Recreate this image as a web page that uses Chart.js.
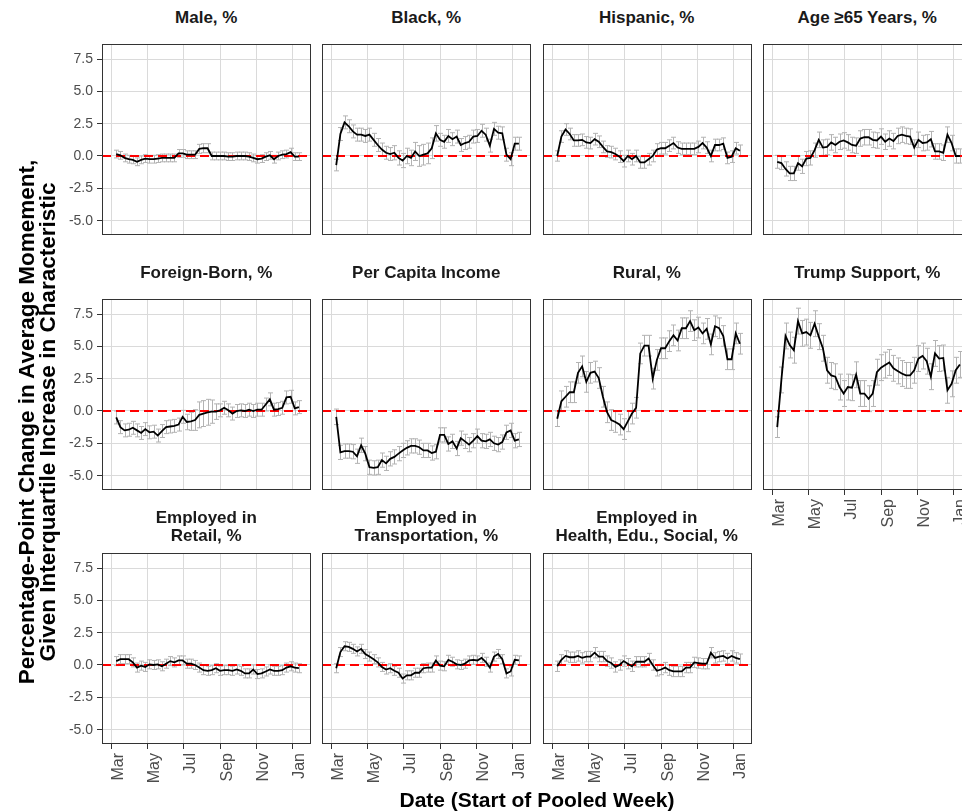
<!DOCTYPE html>
<html>
<head>
<meta charset="utf-8">
<script src="https://cdn.jsdelivr.net/npm/chart.js@4.4.0/dist/chart.umd.min.js"></script>
<style>
  html, body { margin: 0; padding: 0; background: #fff; overflow: hidden; }
  #wrap { position: relative; width: 962px; height: 812px; overflow: hidden;
          font-family: "Liberation Sans", Arial, Helvetica, sans-serif; }
  .ptitle { position: absolute; text-align: center; font-weight: bold; font-size: 17px;
            line-height: 18px; color: #1a1a1a; white-space: nowrap; }
  .axtitle { position: absolute; text-align: center; font-weight: bold; font-size: 21px;
             line-height: 20px; color: #000; white-space: nowrap; }
  canvas { position: absolute; }
</style>
</head>
<body>
<div id="wrap"></div>
<script>
// week start dates (pooled weeks)
const weeks = ['2020-03-09','2020-03-16','2020-03-23','2020-03-30','2020-04-06','2020-04-13','2020-04-20','2020-04-27',
  '2020-05-04','2020-05-11','2020-05-18','2020-05-25','2020-06-01','2020-06-08','2020-06-15','2020-06-22','2020-06-29',
  '2020-07-06','2020-07-13','2020-07-20','2020-07-27','2020-08-03','2020-08-10','2020-08-17','2020-08-24','2020-08-31',
  '2020-09-07','2020-09-14','2020-09-21','2020-09-28','2020-10-05','2020-10-12','2020-10-19','2020-10-26',
  '2020-11-02','2020-11-09','2020-11-16','2020-11-23','2020-11-30','2020-12-07','2020-12-14','2020-12-21','2020-12-28',
  '2021-01-04','2021-01-11'];
const monthTicks = ['2020-03-01','2020-05-01','2020-07-01','2020-09-01','2020-11-01','2021-01-01'];
const monthNames = ['Mar','May','Jul','Sep','Nov','Jan'];
const yTicks = [-5, -2.5, 0, 2.5, 5, 7.5];

// estimates (percentage points) and half-width of error bars
const male = [0.15,0.05,-0.15,-0.25,-0.3,-0.45,-0.3,-0.2,-0.25,-0.25,-0.2,-0.15,-0.15,-0.15,-0.15,0.2,0.2,0.1,0.1,0.1,
  0.55,0.6,0.6,0,0,0,0,-0.05,-0.05,0,0,0,-0.05,-0.15,-0.25,-0.2,-0.05,0.05,-0.25,0,0.1,0.15,0.3,-0.05,-0.05];
const maleErr = [0.3,0.3,0.3,0.3,0.3,0.3,0.3,0.3,0.3,0.3,0.3,0.3,0.3,0.3,0.3,0.3,0.3,0.3,0.3,0.3,
  0.35,0.35,0.35,0.3,0.3,0.3,0.3,0.3,0.3,0.3,0.3,0.3,0.3,0.3,0.3,0.3,0.3,0.3,0.3,0.3,0.3,0.3,0.3,0.3,0.3];

const black = [-0.7,1.7,2.6,2.3,1.9,1.65,1.65,1.55,1.65,1.25,0.85,0.5,0.25,0.15,0.25,-0.15,-0.35,0,-0.15,0.35,
  0,0.1,0.2,0.6,1.75,1.25,1.1,1.55,1.3,1.5,0.85,1.0,1.1,1.5,1.55,1.95,1.65,0.8,2.1,1.8,1.75,0.1,-0.25,0.95,0.95];
const blackErr = [0.45,0.5,0.5,0.5,0.5,0.5,0.5,0.5,0.5,0.5,0.5,0.5,0.5,0.5,0.55,0.55,0.55,0.6,0.6,0.7,
  0.8,0.8,0.8,0.8,0.6,0.5,0.5,0.5,0.5,0.5,0.5,0.5,0.5,0.5,0.5,0.5,0.5,0.5,0.5,0.5,0.5,0.5,0.5,0.5,0.5];

const hispanic = [0,1.5,2.05,1.7,1.2,1.2,1.25,1.05,1.0,1.3,1.1,0.7,0.35,0.3,0.15,-0.05,-0.4,0,-0.25,0,
  -0.5,-0.5,-0.25,0,0.5,0.6,0.6,0.8,1.0,0.65,0.55,0.55,0.55,0.55,0.7,1.0,0.65,0,0.85,0.85,0.95,-0.15,-0.05,0.6,0.4];
const hispanicErr = [0.4,0.45,0.45,0.45,0.45,0.45,0.45,0.45,0.45,0.45,0.45,0.45,0.45,0.45,0.45,0.45,0.45,0.45,0.45,0.45,
  0.45,0.45,0.45,0.45,0.45,0.45,0.45,0.45,0.45,0.45,0.45,0.45,0.45,0.45,0.45,0.45,0.45,0.45,0.45,0.45,0.45,0.45,0.45,0.45,0.45];

const age65 = [-0.45,-0.55,-1.0,-1.35,-1.35,-0.55,-0.8,-0.2,-0.15,0.45,1.25,0.65,0.7,1.05,0.85,1.1,1.2,1.05,0.85,0.8,
  1.35,1.45,1.45,1.25,1.2,1.5,1.1,1.35,1.15,1.55,1.65,1.55,1.5,0.65,1.25,1.0,1.05,1.3,0.35,0.35,0.25,1.65,1.0,0,0];
const age65Err = [0.5,0.5,0.55,0.55,0.55,0.55,0.55,0.55,0.55,0.55,0.6,0.6,0.6,0.6,0.6,0.6,0.6,0.6,0.6,0.6,
  0.6,0.6,0.6,0.6,0.6,0.6,0.6,0.6,0.6,0.6,0.6,0.6,0.6,0.6,0.6,0.6,0.6,0.6,0.6,0.6,0.6,0.6,0.6,0.55,0.55];

const foreignBorn = [-0.5,-1.25,-1.5,-1.45,-1.3,-1.5,-1.7,-1.4,-1.65,-1.6,-1.9,-1.55,-1.25,-1.2,-1.15,-1.05,-0.45,-0.85,-0.8,-0.7,
  -0.3,-0.2,-0.1,-0.05,-0.05,0.05,0.25,0.05,-0.2,0,0.05,0,0.1,0,0.1,0.1,0.5,0.9,0.1,0.15,0.25,1.05,1.1,0.2,0.3];
const foreignBornErr = [0.5,0.5,0.5,0.5,0.5,0.5,0.5,0.5,0.5,0.5,0.5,0.5,0.5,0.5,0.5,0.5,0.5,0.6,0.7,0.8,
  1.0,1.0,1.0,0.9,0.6,0.5,0.5,0.5,0.5,0.5,0.5,0.5,0.5,0.5,0.5,0.5,0.5,0.5,0.5,0.5,0.5,0.5,0.5,0.5,0.5];

const income = [-0.45,-3.2,-3.1,-3.1,-3.15,-3.5,-2.65,-3.3,-4.35,-4.4,-4.35,-3.8,-4.05,-3.7,-3.55,-3.3,-3.05,-2.85,-2.7,-2.7,
  -2.8,-3.05,-3.05,-3.25,-3.15,-1.85,-1.85,-2.55,-2.35,-2.9,-2.1,-2.35,-2.6,-2.3,-1.95,-2.3,-2.35,-2.2,-2.5,-2.6,-2.4,-1.65,-1.5,-2.3,-2.2];
const incomeErr = [0.6,0.55,0.55,0.55,0.55,0.55,0.55,0.55,0.55,0.55,0.55,0.55,0.55,0.55,0.55,0.55,0.55,0.55,0.55,0.55,
  0.55,0.55,0.55,0.55,0.55,0.55,0.55,0.55,0.55,0.55,0.55,0.55,0.55,0.55,0.55,0.55,0.55,0.55,0.55,0.55,0.55,0.55,0.55,0.55,0.55];

const rural = [-0.6,0.75,1.1,1.45,1.45,2.95,3.45,2.25,2.95,3.05,2.55,1.1,-0.1,-0.7,-0.85,-1.05,-1.4,-0.8,-0.2,0.25,
  4.45,5.05,5.05,2.5,3.95,4.85,4.85,5.4,5.85,5.45,6.4,6.4,6.95,6.25,6.45,6.0,6.35,5.15,6.55,6.4,5.8,4.0,4.0,6.0,5.2];
const ruralErr = [0.6,0.8,0.8,0.8,0.8,0.8,0.8,0.8,0.8,0.8,0.8,0.8,0.8,0.8,0.8,0.8,0.8,0.8,0.8,0.8,
  0.8,0.8,0.8,0.8,0.8,0.8,0.8,0.8,0.8,0.8,0.8,0.8,0.8,0.8,0.8,0.8,0.8,0.8,0.8,0.8,0.8,0.8,0.8,0.8,0.8];

const trump = [-1.25,2.4,5.8,5.1,4.7,6.95,6.0,6.1,5.85,6.75,5.75,4.85,3.15,2.75,2.65,1.85,1.35,1.85,1.8,2.8,
  1.35,1.35,0.95,1.35,3.0,3.35,3.55,3.75,3.3,3.1,2.9,2.75,2.75,3.15,4.05,4.25,3.85,2.65,4.45,4.05,4.1,1.6,2.1,3.15,3.6];
const trumpErr = [0.8,1.0,1.0,1.0,1.0,1.0,1.0,1.0,1.0,1.0,1.0,1.0,1.0,1.0,1.0,1.0,1.0,1.0,1.0,1.0,
  1.0,1.0,1.0,1.0,1.0,1.0,1.0,1.0,1.0,1.0,1.0,1.0,1.0,1.0,1.0,1.0,1.0,1.0,1.0,1.0,1.0,1.0,1.0,1.0,1.0];

const retail = [0.3,0.45,0.45,0.45,0.2,-0.2,-0.05,-0.15,0.05,0,0.05,-0.1,0.1,0.3,0.2,0.35,0.35,0.1,0.1,0,
  -0.2,-0.4,-0.45,-0.4,-0.25,-0.45,-0.4,-0.4,-0.45,-0.35,-0.45,-0.65,-0.65,-0.35,-0.7,-0.65,-0.5,-0.35,-0.45,-0.45,-0.4,-0.2,-0.1,-0.2,-0.25];
const retailErr = [0.35,0.35,0.35,0.35,0.35,0.35,0.35,0.35,0.35,0.35,0.35,0.35,0.35,0.35,0.35,0.35,0.35,0.35,0.35,0.35,
  0.35,0.35,0.35,0.35,0.35,0.35,0.35,0.35,0.35,0.35,0.35,0.35,0.35,0.35,0.35,0.35,0.35,0.35,0.35,0.35,0.35,0.35,0.35,0.35,0.35];

const transport = [-0.25,1.0,1.45,1.4,1.25,1.05,1.25,0.85,0.65,0.45,0.2,-0.15,-0.35,-0.25,-0.45,-0.6,-1.05,-0.8,-0.8,-0.6,
  -0.6,-0.25,-0.2,-0.2,0.35,-0.05,-0.1,0.4,0.25,0.05,0,0.1,0.35,0.4,0.35,0.55,0.25,-0.2,0.65,0.85,0.45,-0.65,-0.5,0.4,0.35];
const transportErr = [0.35,0.35,0.35,0.35,0.35,0.35,0.35,0.35,0.35,0.35,0.35,0.35,0.35,0.35,0.35,0.35,0.35,0.35,0.35,0.35,
  0.35,0.35,0.35,0.35,0.35,0.35,0.35,0.35,0.35,0.35,0.35,0.35,0.35,0.35,0.35,0.35,0.35,0.35,0.35,0.35,0.35,0.35,0.35,0.35,0.35];

const health = [-0.1,0.4,0.7,0.6,0.6,0.7,0.55,0.65,0.65,0.95,0.65,0.65,0.3,0.15,-0.15,0,0.3,0.1,-0.1,0.25,
  0.25,0.25,0.5,0,-0.45,-0.35,-0.2,-0.4,-0.5,-0.5,-0.5,-0.2,-0.2,0.2,0.15,0.1,0.1,0.95,0.55,0.65,0.7,0.5,0.7,0.55,0.45];
const healthErr = [0.4,0.4,0.4,0.4,0.4,0.4,0.4,0.4,0.4,0.4,0.4,0.4,0.4,0.4,0.4,0.4,0.4,0.4,0.4,0.4,
  0.4,0.4,0.4,0.4,0.4,0.4,0.4,0.4,0.4,0.4,0.4,0.4,0.4,0.4,0.4,0.4,0.4,0.4,0.4,0.4,0.4,0.4,0.4,0.4,0.4];

const FONT = '"Liberation Sans", Arial, Helvetica, sans-serif';
const dayOf = s => (Date.parse(s + 'T00:00:00Z') - Date.parse('2020-03-01T00:00:00Z')) / 86400000;
const weekDays = weeks.map(dayOf);
const monthDays = monthTicks.map(dayOf);

const X_MIN = -16, X_MAX = 336.4;
const Y_MIN = -6.11, Y_MAX = 8.66;
const colLeft = [102, 322, 542.5, 763];
const rowTop = [44, 299, 553];
const PW = 208.5, PH = 191;
const AXW = 46, AXH = 52, PAD = 3;

const panels = [
  { title: ['Male, %'], vals: male, errs: maleErr, col: 0, row: 0, xLab: false },
  { title: ['Black, %'], vals: black, errs: blackErr, col: 1, row: 0, xLab: false },
  { title: ['Hispanic, %'], vals: hispanic, errs: hispanicErr, col: 2, row: 0, xLab: false },
  { title: ['Age \u226565 Years, %'], vals: age65, errs: age65Err, col: 3, row: 0, xLab: false },
  { title: ['Foreign-Born, %'], vals: foreignBorn, errs: foreignBornErr, col: 0, row: 1, xLab: false },
  { title: ['Per Capita Income'], vals: income, errs: incomeErr, col: 1, row: 1, xLab: false },
  { title: ['Rural, %'], vals: rural, errs: ruralErr, col: 2, row: 1, xLab: false },
  { title: ['Trump Support, %'], vals: trump, errs: trumpErr, col: 3, row: 1, xLab: true },
  { title: ['Employed in', 'Retail, %'], vals: retail, errs: retailErr, col: 0, row: 2, xLab: true },
  { title: ['Employed in', 'Transportation, %'], vals: transport, errs: transportErr, col: 1, row: 2, xLab: true },
  { title: ['Employed in', 'Health, Edu., Social, %'], vals: health, errs: healthErr, col: 2, row: 2, xLab: true }
];

// error bars, red zero line, panel border
const panelDeco = {
  id: 'panelDeco',
  beforeDatasetsDraw(chart) {
    const { ctx, chartArea: a, scales: { x, y } } = chart;
    const ds = chart.data.datasets[0];
    ctx.save();
    ctx.beginPath();
    ctx.rect(a.left, a.top, a.right - a.left, a.bottom - a.top);
    ctx.clip();
    ctx.strokeStyle = '#b3b3b3';
    ctx.lineWidth = 1;
    ds.data.forEach((p, i) => {
      const px = Math.round(x.getPixelForValue(p.x)) + 0.5;
      const t = y.getPixelForValue(p.y + ds.errs[i]);
      const b = y.getPixelForValue(p.y - ds.errs[i]);
      ctx.beginPath();
      ctx.moveTo(px, t); ctx.lineTo(px, b);
      ctx.moveTo(px - 2.5, t); ctx.lineTo(px + 2.5, t);
      ctx.moveTo(px - 2.5, b); ctx.lineTo(px + 2.5, b);
      ctx.stroke();
    });
    const zy = y.getPixelForValue(0);
    ctx.strokeStyle = '#ff0000';
    ctx.lineWidth = 2;
    ctx.setLineDash([9, 5]);
    ctx.beginPath();
    ctx.moveTo(a.left, zy); ctx.lineTo(a.right, zy);
    ctx.stroke();
    ctx.restore();
  },
  afterDraw(chart) {
    const { ctx, chartArea: a } = chart;
    ctx.save();
    ctx.strokeStyle = '#333333';
    ctx.lineWidth = 1;
    ctx.strokeRect(Math.round(a.left) + 0.5, Math.round(a.top) + 0.5,
      Math.round(a.right - a.left) - 1, Math.round(a.bottom - a.top) - 1);
    ctx.restore();
  }
};

const wrap = document.getElementById('wrap');

panels.forEach(p => {
  const L = colLeft[p.col], T = rowTop[p.row];
  const yLab = p.col === 0;

  // facet strip title
  const tt = document.createElement('div');
  tt.className = 'ptitle';
  tt.style.left = L + 'px';
  tt.style.width = PW + 'px';
  tt.style.top = (p.title.length === 2 ? T - 44 : T - 35) + 'px';
  tt.innerHTML = p.title.join('<br>');
  wrap.appendChild(tt);

  const cv = document.createElement('canvas');
  const cw = Math.round(PW + AXW + PAD), ch = Math.round(PH + AXH + PAD);
  cv.width = cw; cv.height = ch;
  cv.style.left = (L - AXW) + 'px';
  cv.style.top = (T - PAD) + 'px';
  cv.style.width = cw + 'px';
  cv.style.height = ch + 'px';
  wrap.appendChild(cv);

  new Chart(cv, {
    type: 'line',
    data: {
      datasets: [{
        data: weekDays.map((d, i) => ({ x: d, y: p.vals[i] })),
        errs: p.errs,
        borderColor: '#000',
        borderWidth: 1.8,
        pointRadius: 0,
        tension: 0,
        fill: false
      }]
    },
    options: {
      responsive: false,
      animation: false,
      devicePixelRatio: 1,
      layout: { padding: { top: PAD, right: PAD, left: 0, bottom: 0 } },
      plugins: { legend: { display: false }, tooltip: { enabled: false } },
      scales: {
        x: {
          type: 'linear',
          min: X_MIN, max: X_MAX,
          afterBuildTicks: s => { s.ticks = monthDays.map(v => ({ value: v })); },
          afterFit: s => { s.height = AXH; s.paddingLeft = 0; s.paddingRight = 0; },
          border: { display: false },
          grid: { color: '#dadada', lineWidth: 1, drawTicks: p.xLab, tickLength: 5, tickColor: '#333' },
          ticks: {
            display: p.xLab, autoSkip: false, minRotation: 90, maxRotation: 90, padding: 4,
            labelOffset: 7,
            color: '#4d4d4d', font: { family: FONT, size: 16 },
            callback: (v, i) => monthNames[i]
          }
        },
        y: {
          type: 'linear',
          min: Y_MIN, max: Y_MAX,
          afterBuildTicks: s => { s.ticks = yTicks.map(v => ({ value: v })); },
          afterFit: s => { s.width = AXW; s.paddingTop = 0; s.paddingBottom = 0; },
          border: { display: false },
          grid: { color: '#dadada', lineWidth: 1, drawTicks: yLab, tickLength: 5, tickColor: '#333' },
          ticks: {
            display: yLab, padding: 4,
            color: '#4d4d4d', font: { family: FONT, size: 14 },
            callback: v => v.toFixed(1)
          }
        }
      }
    },
    plugins: [panelDeco]
  });
});

// axis titles
const xt = document.createElement('div');
xt.className = 'axtitle';
xt.style.left = (537 - 200) + 'px';
xt.style.width = '400px';
xt.style.top = '790px';
xt.textContent = 'Date (Start of Pooled Week)';
wrap.appendChild(xt);

const yt = document.createElement('div');
yt.className = 'axtitle';
yt.style.width = '700px';
yt.style.height = '42px';
yt.style.fontSize = '22.5px';
yt.style.lineHeight = '21px';
yt.style.left = (37 - 350) + 'px';
yt.style.top = (422 - 21) + 'px';
yt.style.transform = 'rotate(-90deg)';
yt.innerHTML = 'Percentage-Point Change in Average Momement,<br>Given Interquartile Increase in Characteristic';
wrap.appendChild(yt);
</script>
</body>
</html>
